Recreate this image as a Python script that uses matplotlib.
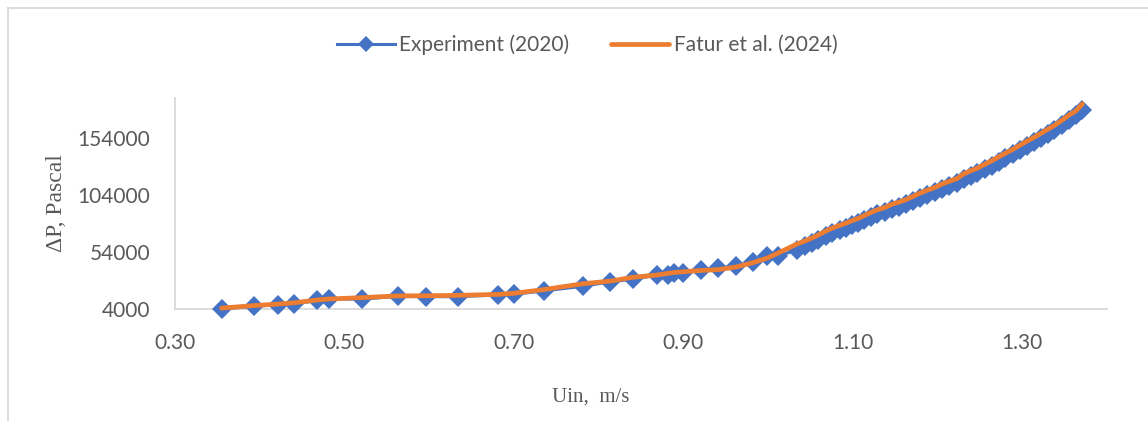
import matplotlib.pyplot as plt
from matplotlib.lines import Line2D

uin = [0.355, 0.393, 0.421, 0.441, 0.468, 0.482, 0.521, 0.563, 0.596, 0.634,
       0.681, 0.700, 0.735, 0.782, 0.814, 0.840, 0.869, 0.882, 0.889, 0.900,
       0.921, 0.941, 0.962, 0.982, 0.999, 1.012, 1.034, 1.043, 1.052, 1.059,
       1.068, 1.076, 1.085, 1.092, 1.099, 1.106, 1.113, 1.121, 1.129, 1.138,
       1.146, 1.154, 1.163, 1.171, 1.179, 1.188, 1.197, 1.205, 1.214, 1.223,
       1.231, 1.239, 1.247, 1.256, 1.264, 1.272, 1.280, 1.289, 1.297, 1.305,
       1.314, 1.322, 1.330, 1.338, 1.347, 1.355, 1.363, 1.371]

dp_experiment = [4000, 6300, 7800, 8400, 11500, 12700, 12700, 15000, 14800, 14800,
                 16300, 16900, 19800, 24000, 27900, 30000, 33800, 33800, 35300, 35800,
                 38200, 39700, 42000, 45500, 50500, 50500, 55800, 59300, 61900, 64500,
                 68000, 70700, 73300, 75100, 77700, 79400, 82100, 84700, 87300, 89100,
                 91700, 93500, 96100, 98700, 101400, 104000, 106600, 109300, 111900, 114500,
                 118000, 120700, 123300, 126800, 129400, 133000, 136500, 140000, 143500, 147000,
                 150500, 154000, 157500, 161000, 165400, 169800, 174200, 178600]

dp_fatur = [4800, 7000, 8300, 9500, 11900, 12800, 14000, 15500, 15600, 16000,
            16800, 17800, 21000, 26200, 28500, 31800, 33800, 35300, 36000, 36700,
            37800, 38500, 40800, 44600, 48700, 53100, 61000, 63500, 66300, 68800,
            72300, 75000, 77500, 79300, 81500, 83300, 85800, 88500, 91000, 93000,
            95800, 97600, 100000, 102700, 105500, 108200, 110600, 113500, 116000, 118400,
            122500, 125200, 127500, 131000, 134000, 137300, 140600, 144000, 147500, 151000,
            154500, 158000, 161500, 165000, 169500, 174000, 177500, 183800]

x_ticks = [0.30, 0.50, 0.70, 0.90, 1.10, 1.30]
y_ticks = [4000, 54000, 104000, 154000]

text_col = '#595959'
axis_col = '#d9d9d9'

fig = plt.figure(figsize=(11.48, 4.21), dpi=100)
ax = fig.add_axes([175 / 1148, 112 / 421, 932 / 1148, 211 / 421])

ax.plot(uin, dp_experiment, color='#4472C4', linewidth=2.2, marker='D',
        markersize=10.5, markeredgewidth=0, label='Experiment (2020)',
        zorder=2, clip_on=False)
ax.plot(uin, dp_fatur, color='#ED7D31', linewidth=3.4,
        label='Fatur et al. (2024)', solid_capstyle='round', zorder=3,
        clip_on=False)

ax.set_xlim(0.30, 1.40)
ax.set_ylim(4000, 189000)
ax.set_xticks(x_ticks)
ax.set_xticklabels([f'{v:.2f}' for v in x_ticks])
ax.set_yticks(y_ticks)
ax.set_yticklabels([str(v) for v in y_ticks])
ax.tick_params(length=0, labelsize=15, labelcolor=text_col)
ax.tick_params(axis='y', pad=18)
ax.tick_params(axis='x', pad=17)
for lab in ax.get_xticklabels() + ax.get_yticklabels():
    lab.set_family('Lato')

for side in ['top', 'right']:
    ax.spines[side].set_visible(False)
for side in ['left', 'bottom']:
    ax.spines[side].set_color(axis_col)
    ax.spines[side].set_linewidth(1.3)
    ax.spines[side].set_zorder(1)

fig.text(591 / 1148, 1 - 397 / 421, 'Uin,  m/s', family='Liberation Serif',
         fontsize=15, color=text_col, ha='center', va='center')
fig.text(57 / 1148, 1 - 203 / 421, 'ΔP, Pascal', family='Liberation Serif',
         fontsize=17, color=text_col, ha='center', va='center', rotation=90)

fig.legend(loc='center', bbox_to_anchor=(587 / 1148, 1 - 45 / 421), ncol=2,
           frameon=False, prop={'family': 'Lato', 'size': 15},
           labelcolor=text_col, handlelength=2.8, handletextpad=0.2,
           columnspacing=2.0, markerscale=0.8)

# chart frame (only top and left edges are visible in the crop)
fig.add_artist(Line2D([7.5 / 1148, 7.5 / 1148], [0, 1 - 7.5 / 421],
                      transform=fig.transFigure, color=axis_col, linewidth=1.3))
fig.add_artist(Line2D([7.5 / 1148, 1], [1 - 7.5 / 421, 1 - 7.5 / 421],
                      transform=fig.transFigure, color=axis_col, linewidth=1.3))

fig.savefig('out.png', dpi=100)
